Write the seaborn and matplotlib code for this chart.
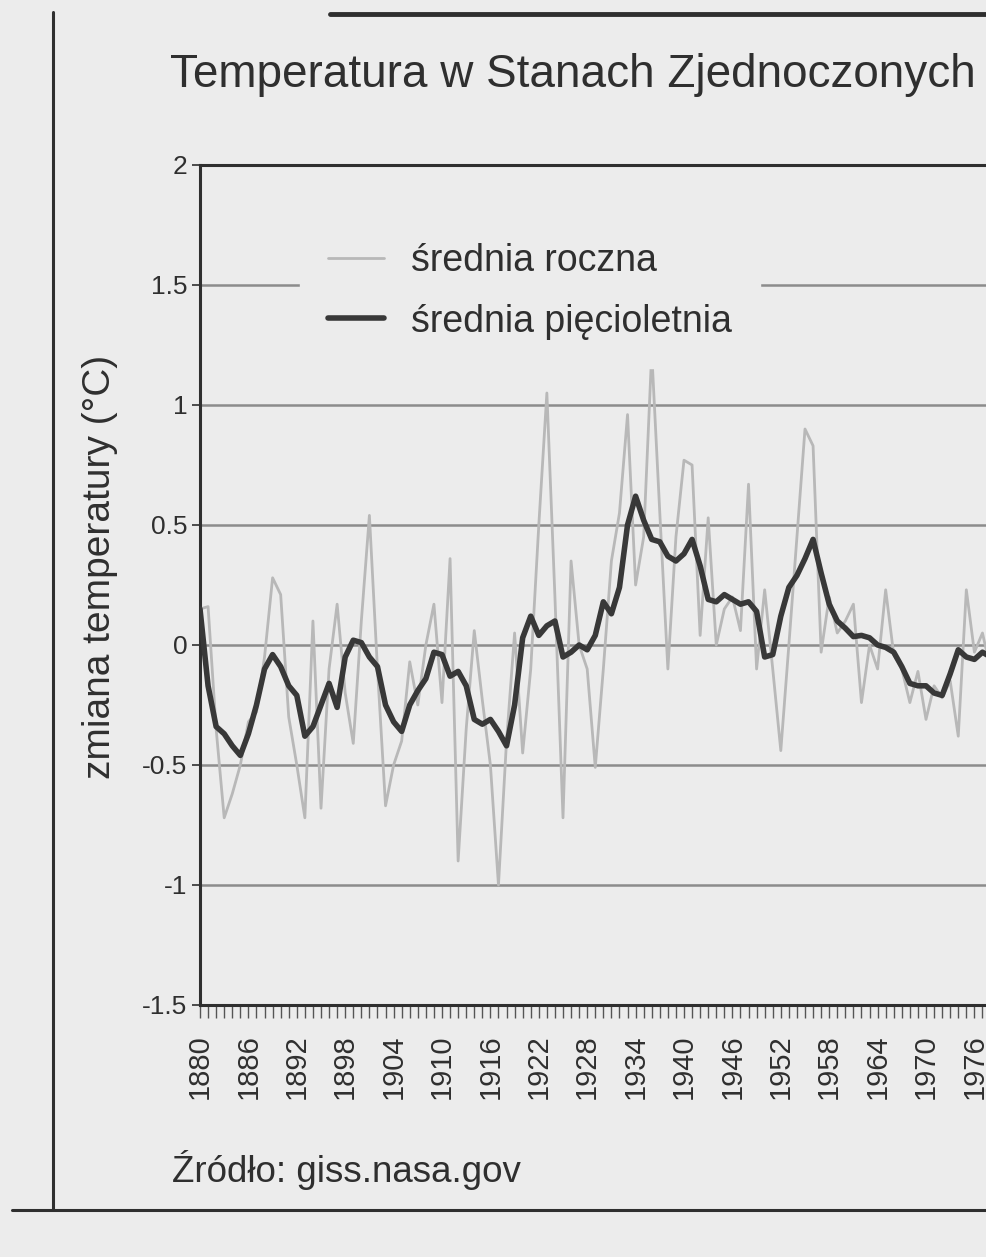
import numpy as np
import pandas as pd
import matplotlib
matplotlib.use("Agg")
import matplotlib.pyplot as plt
from matplotlib import font_manager
from matplotlib.lines import Line2D
import seaborn as sns

# ---------------- data ----------------
years = list(range(1880, 1979))

annual = [
    0.15, 0.16, -0.35, -0.72, -0.62, -0.50, -0.32, -0.28, -0.05, 0.28,   # 1880-1889
    0.21, -0.30, -0.50, -0.72, 0.10, -0.68, -0.10, 0.17, -0.20, -0.41,    # 1890-1899
    0.10, 0.54, -0.10, -0.67, -0.50, -0.40, -0.07, -0.25, 0.00, 0.17,     # 1900-1909
    -0.24, 0.36, -0.90, -0.35, 0.06, -0.23, -0.50, -1.00, -0.40, 0.05,    # 1910-1919
    -0.45, -0.10, 0.50, 1.05, 0.20, -0.72, 0.35, 0.00, -0.10, -0.51,      # 1920-1929
    -0.10, 0.35, 0.55, 0.96, 0.25, 0.45, 1.22, 0.55, -0.10, 0.45,         # 1930-1939
    0.77, 0.75, 0.04, 0.53, 0.00, 0.15, 0.20, 0.06, 0.67, -0.10,          # 1940-1949
    0.23, -0.10, -0.44, 0.00, 0.45, 0.90, 0.83, -0.03, 0.20, 0.05,        # 1950-1959
    0.10, 0.17, -0.24, 0.00, -0.10, 0.23, -0.04, -0.10, -0.24, -0.11,     # 1960-1969
    -0.31, -0.17, -0.22, -0.15, -0.38, 0.23, -0.03, 0.05, -0.10,          # 1970-1978
]

five_year = [
    0.15, -0.17, -0.34, -0.37, -0.42, -0.46, -0.37, -0.25, -0.10, -0.04,  # 1880-1889
    -0.09, -0.17, -0.21, -0.38, -0.34, -0.25, -0.16, -0.26, -0.05, 0.02,  # 1890-1899
    0.01, -0.05, -0.09, -0.25, -0.32, -0.36, -0.25, -0.19, -0.14, -0.03,  # 1900-1909
    -0.04, -0.13, -0.11, -0.17, -0.31, -0.33, -0.31, -0.36, -0.42, -0.25, # 1910-1919
    0.03, 0.12, 0.04, 0.08, 0.10, -0.05, -0.03, 0.00, -0.02, 0.04,        # 1920-1929
    0.18, 0.13, 0.24, 0.50, 0.62, 0.52, 0.44, 0.43, 0.37, 0.35,           # 1930-1939
    0.38, 0.44, 0.33, 0.19, 0.18, 0.21, 0.19, 0.17, 0.18, 0.14,           # 1940-1949
    -0.05, -0.04, 0.12, 0.24, 0.29, 0.36, 0.44, 0.30, 0.17, 0.10,         # 1950-1959
    0.07, 0.035, 0.04, 0.03, 0.00, -0.01, -0.03, -0.09, -0.16, -0.17,     # 1960-1969
    -0.17, -0.20, -0.21, -0.12, -0.02, -0.05, -0.06, -0.03, -0.05,        # 1970-1978
]

title = "Temperatura w Stanach Zjednoczonych"
y_label = "zmiana temperatury (°C)"
legend_labels = ["średnia roczna", "średnia pięcioletnia"]
source = "Źródło: giss.nasa.gov"
y_ticks = [-1.5, -1, -0.5, 0, 0.5, 1, 1.5, 2]
y_tick_labels = ["-1.5", "-1", "-0.5", "0", "0.5", "1", "1.5", "2"]
x_ticks = list(range(1880, 1977, 6))

# ---------------- style ----------------
paper = "#ececec"
ink = "#2f2f2f"
sns.set_theme(style="white")
names = {f.name for f in font_manager.fontManager.ttflist}
fam = "Liberation Sans Narrow" if "Liberation Sans Narrow" in names else "Liberation Sans"
plt.rcParams["font.family"] = [fam, "DejaVu Sans"]
plt.rcParams["text.color"] = ink

W, H = 987, 1257
fig = plt.figure(figsize=(W / 100, H / 100), dpi=100, facecolor=paper)
ax = fig.add_axes([200 / W, 1 - 1005 / H, 968 / W, 840 / H], facecolor=paper)

df = pd.DataFrame({"rok": years, "roczna": annual, "piecioletnia": five_year})

sns.lineplot(data=df, x="rok", y="roczna", ax=ax, color="#b8b8b8", lw=2.0,
             label=legend_labels[0], zorder=3)
sns.lineplot(data=df, x="rok", y="piecioletnia", ax=ax, color="#383838", lw=4.0,
             label=legend_labels[1], zorder=4)

ax.set_xlim(1880, 2000)
ax.set_ylim(-1.5, 2)
for v in y_ticks[1:-1]:
    ax.axhline(v, color="#8c8c8c", lw=1.8, zorder=1)

ax.set_yticks(y_ticks)
ax.set_yticklabels(y_tick_labels, fontsize=19, color=ink)
ax.set_xticks(x_ticks)
ax.set_xticklabels([str(t) for t in x_ticks], rotation=90, fontsize=21, color=ink)
ax.set_xticks(list(range(1880, 2000)), minor=True)
ax.tick_params(axis="x", which="both", direction="out", length=9, width=1,
               color="#555555", pad=12, bottom=True)
ax.tick_params(axis="y", which="major", direction="out", length=6, width=1.2,
               color=ink, pad=3, left=True)
ax.set_xlabel("")
ax.set_ylabel("")

for side in ["left", "bottom", "top"]:
    ax.spines[side].set_visible(True)
    ax.spines[side].set_color(ink)
    ax.spines[side].set_linewidth(2.2)
ax.spines["right"].set_visible(False)

leg = ax.legend(loc="upper left", bbox_to_anchor=(100 / 968, (1005 - 215) / 840),
                borderaxespad=0, frameon=True, facecolor=paper, edgecolor=paper,
                framealpha=1, fontsize=27, handlelength=1.5, handletextpad=0.7,
                labelspacing=0.65, borderpad=0.75)
for t in leg.get_texts():
    t.set_color(ink)
leg.set_zorder(5)

fig.text(170 / W, 1 - 75 / H, title, fontsize=33, ha="left", va="center", color=ink)
fig.text(100 / W, 1 - 567 / H, y_label, fontsize=28, rotation=90, ha="center",
         va="center", color=ink)
fig.text(172 / W, 1 - 1170 / H, source, fontsize=26.5, ha="left", va="center", color=ink)

# page frame
fig.add_artist(Line2D([53 / W, 53 / W], [1 - 12 / H, 1 - 1210 / H], color=ink, lw=2.2,
                      transform=fig.transFigure))
fig.add_artist(Line2D([12 / W, 1.0], [1 - 1210 / H, 1 - 1210 / H], color=ink, lw=2.2,
                      transform=fig.transFigure))
fig.add_artist(Line2D([330 / W, 1.0], [1 - 14 / H, 1 - 14 / H], color=ink, lw=3.5,
                      transform=fig.transFigure))

fig.savefig("out.png", dpi=100, facecolor=paper)
